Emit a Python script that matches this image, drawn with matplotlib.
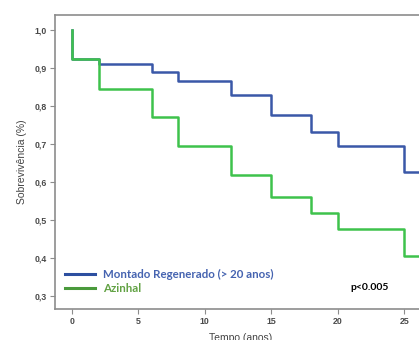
import numpy as np
import matplotlib.pyplot as plt
from matplotlib.lines import Line2D

# Kaplan-Meier survival steps
tempo = [0, 0, 2, 6, 8, 12, 15, 18, 20, 25, 28]
montado = [1.0, 0.925, 0.91, 0.89, 0.867, 0.829, 0.776, 0.732, 0.696, 0.627, 0.627]
azinhal = [1.0, 0.925, 0.846, 0.771, 0.694, 0.618, 0.561, 0.520, 0.477, 0.406, 0.406]

x_ticks = [0, 5, 10, 15, 20, 25]
y_ticks = [0.3, 0.4, 0.5, 0.6, 0.7, 0.8, 0.9, 1.0]
y_labels = ['0,3', '0,4', '0,5', '0,6', '0,7', '0,8', '0,9', '1,0']

blue = '#3a58a8'
green = '#3ec24c'

fig = plt.figure(figsize=(4.19, 3.40), dpi=100)
ax = fig.add_axes([55 / 419, 1 - 309 / 340, 389 / 419, 294 / 340])

ax.plot(tempo, montado, drawstyle='steps-post', color=blue, lw=1.8)
ax.plot(tempo, azinhal, drawstyle='steps-post', color=green, lw=1.8)

ax.set_xlim(-1.275, 28)
ax.set_ylim(0.266, 1.04)
ax.set_xticks(x_ticks)
ax.set_yticks(y_ticks)
ax.set_yticklabels(y_labels)

for side in ['top', 'bottom', 'left']:
    ax.spines[side].set_color('#8c8c8c')
    ax.spines[side].set_linewidth(1.2)
ax.spines['right'].set_visible(False)
ax.tick_params(colors='#8c8c8c', length=3.5, width=0.8, labelcolor='#4a4a4a',
               labelsize=6.3, pad=2.5)
for lbl in ax.get_xticklabels() + ax.get_yticklabels():
    lbl.set_fontweight('bold')
    lbl.set_family('Liberation Sans')

ax.set_ylabel('Sobrevivência (%)', fontsize=7.5, color='#444444',
              family='Liberation Sans')
ax.yaxis.set_label_coords(-0.072, 0.5)
ax.set_xlabel('Tempo (anos)', fontsize=7.5, color='#444444',
              family='Liberation Sans')
ax.xaxis.set_label_coords(0.476, -0.083)

handles = [Line2D([], [], color='#2d4fa0', lw=2.2),
           Line2D([], [], color='#4a9a3c', lw=2.2)]
leg = ax.legend(handles, ['Montado Regenerado (> 20 anos)', 'Azinhal'],
                loc='lower left', bbox_to_anchor=(0.0, 0.015), frameon=False,
                handlelength=2.6, handletextpad=0.7, labelspacing=0.25,
                prop={'family': 'Lato', 'size': 8.3, 'weight': 'bold'},
                labelcolor=['#4563b0', '#62a244'])

ax.text((350 - 55) / 389, (309 - 288) / 294, 'p<0.005', transform=ax.transAxes,
        fontsize=7.5, fontweight='bold', family='Lato', va='center')

fig.savefig('out.png', dpi=100)
